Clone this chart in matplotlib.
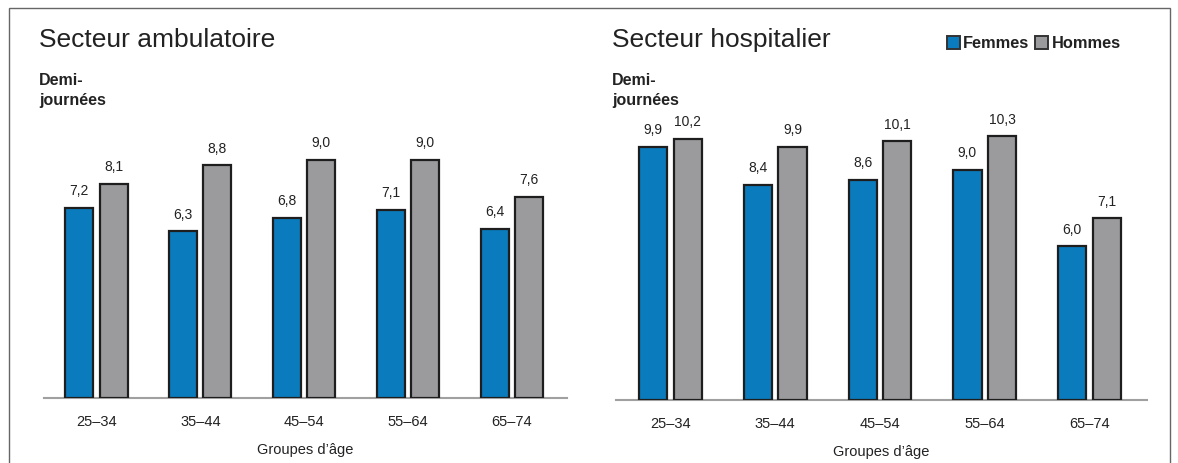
import matplotlib
matplotlib.use("Agg")
import matplotlib.pyplot as plt
from matplotlib.patches import Rectangle

plt.rcParams['font.family'] = ['Liberation Sans', 'DejaVu Sans']

# Age groups and half-days worked per week
age_groups = ["25–34", "35–44", "45–54", "55–64", "65–74"]
ambulatoire_femmes = [7.2, 6.3, 6.8, 7.1, 6.4]
ambulatoire_hommes = [8.1, 8.8, 9.0, 9.0, 7.6]
hospitalier_femmes = [9.9, 8.4, 8.6, 9.0, 6.0]
hospitalier_hommes = [10.2, 9.9, 10.1, 10.3, 7.1]
series_labels = ["Femmes", "Hommes"]

W, H = 1178, 463
BLUE = "#0a7cbd"
GREY = "#9b9b9e"
EDGE = "#1e1e1e"
TXT = "#222222"

fig = plt.figure(figsize=(W / 100, H / 100), dpi=100)


def fx(px):
    return px / W


def fy(py):
    return 1 - py / H


def fmt(v):
    return f"{v:.1f}".replace(".", ",")


def panel(x0, x1, y_base, y_top, ppu, xlim, femmes, hommes):
    ax = fig.add_axes([fx(x0), fy(y_base), fx(x1 - x0), (y_base - y_top) / H])
    ax.set_xlim(*xlim)
    ax.set_ylim(0, (y_base - y_top) / ppu)
    xs = range(len(age_groups))
    bw = 0.27
    off = 0.165
    for vals, col, sgn in ((femmes, BLUE, -1), (hommes, GREY, 1)):
        pos = [x + sgn * off for x in xs]
        ax.bar(pos, vals, width=bw, color=col, edgecolor=EDGE, linewidth=1.6,
               zorder=3)
        for p, v in zip(pos, vals):
            ax.annotate(fmt(v), (p, v), xytext=(0, 7), textcoords="offset points",
                        ha="center", va="bottom", fontsize=10, color=TXT)
    for s in ("top", "left", "right"):
        ax.spines[s].set_visible(False)
    ax.spines["bottom"].set_color("#a0a0a0")
    ax.spines["bottom"].set_linewidth(1.5)
    ax.set_yticks([])
    ax.set_xticks(list(xs))
    ax.set_xticklabels(age_groups, fontsize=10.5, color=TXT)
    ax.tick_params(axis="x", length=0, pad=12)
    ax.set_xlabel("Groupes d’âge", fontsize=10.5, color=TXT, labelpad=10.5)
    return ax


panel(44, 567, 398, 100, 26.45, (-0.505, 4.53),
      ambulatoire_femmes, ambulatoire_hommes)
panel(616, 1147, 400, 100, 25.6, (-0.52, 4.55),
      hospitalier_femmes, hospitalier_hommes)

# Panel titles and y-axis captions
for xt, title in ((39, "Secteur ambulatoire"), (612, "Secteur hospitalier")):
    fig.text(fx(xt), fy(47), title, fontsize=19, color=TXT, va="baseline",
             ha="left")
    fig.text(fx(xt), fy(85), "Demi-", fontsize=11.5, fontweight="bold",
             color=TXT, va="baseline")
    fig.text(fx(xt), fy(105), "journées", fontsize=11.5, fontweight="bold",
             color=TXT, va="baseline")

# Legend
for sx, tx, col, lab in ((947, 963, BLUE, series_labels[0]),
                         (1035, 1052, GREY, series_labels[1])):
    fig.patches.append(Rectangle((fx(sx), fy(49)), fx(13), 13 / H,
                                 transform=fig.transFigure, facecolor=col,
                                 edgecolor="#333333", linewidth=1.4))
    fig.text(fx(tx), fy(48), lab, fontsize=11.8, fontweight="bold",
             color=TXT, va="baseline")

# Outer frame
fig.patches.append(Rectangle((fx(9), fy(470)), fx(1170 - 9), 462 / H,
                             transform=fig.transFigure, fill=False,
                             edgecolor="#666666", linewidth=1.0))

fig.savefig("out.png", dpi=100)
